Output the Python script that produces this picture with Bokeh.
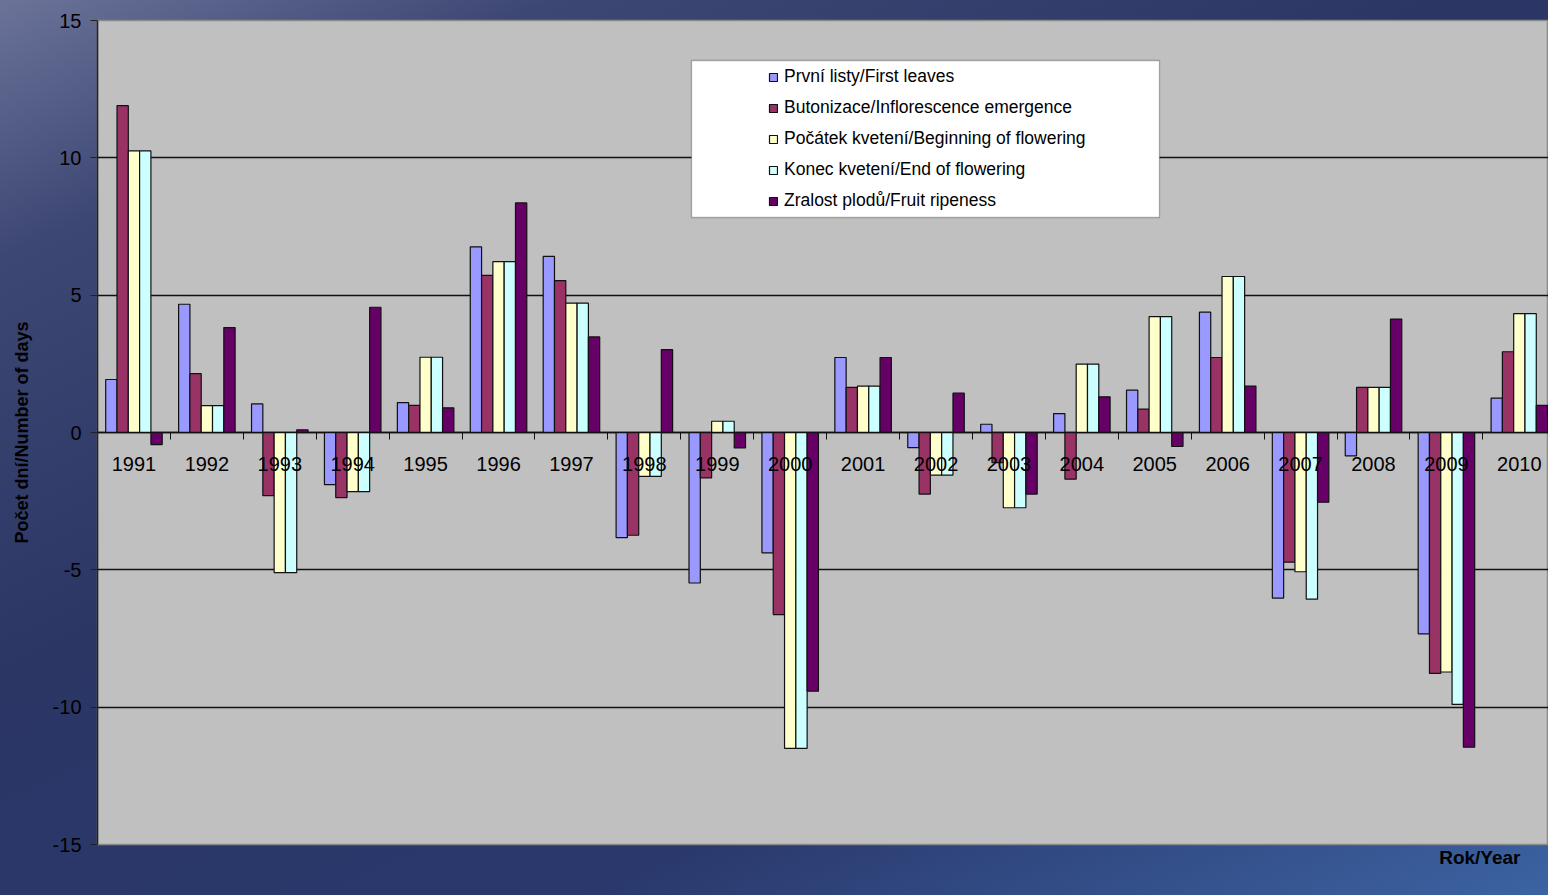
import numpy as np
from bokeh.plotting import figure
from bokeh.models import (ColumnDataSource, FixedTicker, LinearAxis, Legend, LegendItem,
                          BoxAnnotation, Title, Range1d)
from bokeh.transform import dodge
from bokeh.embed import file_html
from bokeh.resources import INLINE

years = ["1991", "1992", "1993", "1994", "1995", "1996", "1997", "1998", "1999", "2000",
         "2001", "2002", "2003", "2004", "2005", "2006", "2007", "2008", "2009", "2010"]

series_names = ["První listy/First leaves",
                "Butonizace/Inflorescence emergence",
                "Počátek kvetení/Beginning of flowering",
                "Konec kvetení/End of flowering",
                "Zralost plodů/Fruit ripeness"]

first_leaves = [1.93, 4.67, 1.04, -1.9, 1.09, 6.76, 6.41, -3.83, -5.48, -4.38,
                2.73, -0.55, 0.3, 0.69, 1.54, 4.38, -6.03, -0.85, -7.33, 1.25]
inflorescence = [11.9, 2.14, -2.3, -2.37, 0.99, 5.72, 5.53, -3.74, -1.65, -6.63,
                 1.64, -2.24, -1.1, -1.7, 0.85, 2.73, -4.72, 1.64, -8.77, 2.94]
begin_flowering = [10.25, 0.98, -5.1, -2.15, 2.74, 6.22, 4.71, -1.6, 0.41, -11.5,
                   1.69, -1.55, -2.74, 2.49, 4.22, 5.68, -5.07, 1.64, -8.72, 4.33]
end_flowering = [10.25, 0.98, -5.1, -2.15, 2.74, 6.22, 4.71, -1.6, 0.41, -11.5,
                 1.69, -1.55, -2.74, 2.49, 4.22, 5.68, -6.07, 1.64, -9.9, 4.33]
fruit_ripeness = [-0.44, 3.82, 0.1, 4.56, 0.9, 8.36, 3.48, 3.02, -0.56, -9.42,
                  2.73, 1.43, -2.24, 1.3, -0.51, 1.69, -2.54, 4.13, -11.46, 0.99]

colors = ["#9999FF", "#993366", "#FFFFCC", "#CCFFFF", "#660066"]
y_ticks = [-15, -10, -5, 0, 5, 10, 15]

src = ColumnDataSource(dict(
    xc=np.arange(len(years)) + 0.5,
    s0=first_leaves, s1=inflorescence, s2=begin_flowering, s3=end_flowering, s4=fruit_ripeness,
))

FONT = "Liberation Sans"

p = figure(width=1548, height=895, output_backend="svg", toolbar_location=None,
           x_range=Range1d(0, 19.9), y_range=Range1d(-15, 15),
           min_border_left=97, min_border_right=0, min_border_top=20, min_border_bottom=51,
           background_fill_color="#C0C0C0", border_fill_color=None,
           outline_line_color="#8a8a8a", outline_line_width=1.5, x_axis_type=None)
p.styles = {"background": "linear-gradient(155deg, #6b7399 0%, #3d4773 16%, #2b3665 42%, #2a386c 72%, #3c63a2 100%)"}

bar_w = 0.155
offsets = [-2 * bar_w, -bar_w, 0, bar_w, 2 * bar_w]
renderers = []
for i in range(5):
    r = p.vbar(x=dodge("xc", offsets[i], range=p.x_range), top=f"s{i}", bottom=0, width=bar_w,
               source=src, fill_color=colors[i], line_color="#111111", line_width=1.2)
    renderers.append(r)

# y axis / grid
p.yaxis.ticker = FixedTicker(ticks=y_ticks)
p.yaxis.major_label_overrides = {t: str(t) for t in y_ticks}
p.yaxis.axis_line_color = "#222222"
p.yaxis.axis_line_width = 1.5
p.yaxis.major_tick_out = 7
p.yaxis.major_tick_in = 0
p.yaxis.major_tick_line_color = "#222222"
p.yaxis.minor_tick_line_color = None
p.yaxis.major_label_text_font = FONT
p.yaxis.major_label_text_font_size = "20px"
p.yaxis.major_label_text_color = "#000000"
p.yaxis.major_label_standoff = 9
p.yaxis.axis_label = "Počet dní/Number of days"
p.yaxis.axis_label_text_font = FONT
p.yaxis.axis_label_text_font_style = "bold"
p.yaxis.axis_label_text_font_size = "18px"
p.yaxis.axis_label_text_color = "#000000"
p.yaxis.axis_label_standoff = 18
p.ygrid.ticker = FixedTicker(ticks=y_ticks)
p.ygrid.grid_line_color = "#111111"
p.ygrid.grid_line_width = 1.3

# category axis along zero: tick marks at boundaries
boundaries = list(range(0, len(years) + 1))
ax_ticks = LinearAxis(ticker=FixedTicker(ticks=boundaries), fixed_location=0,
                      major_label_text_color=None, axis_line_color="#111111", axis_line_width=1.5,
                      major_tick_out=7, major_tick_in=0, major_tick_line_color="#111111",
                      minor_tick_line_color=None)
p.add_layout(ax_ticks, "below")
centers = [i + 0.5 for i in range(len(years))]
ax_labels = LinearAxis(ticker=FixedTicker(ticks=centers), fixed_location=0,
                       major_label_overrides={c: y for c, y in zip(centers, years)},
                       axis_line_color=None, major_tick_line_color=None, minor_tick_line_color=None,
                       major_label_text_font=FONT, major_label_text_font_size="20px",
                       major_label_text_color="#000000", major_label_standoff=18)
p.add_layout(ax_labels, "below")

# legend box and legend
box = BoxAnnotation(left=594, right=1062, top=784, bottom=627,
                    left_units="screen", right_units="screen", top_units="screen", bottom_units="screen",
                    fill_color="white", fill_alpha=1.0, line_color="#111111", line_width=1.3)
p.add_layout(box)
legend = Legend(items=[LegendItem(label=n, renderers=[r]) for n, r in zip(series_names, renderers)],
                location=(671, 633), padding=0, margin=0, spacing=10,
                glyph_width=10, glyph_height=10, label_height=20, label_standoff=6,
                label_text_font=FONT, label_text_font_size="17.5px", label_text_color="#000000",
                background_fill_alpha=0, border_line_color=None)
p.add_layout(legend)

# axis title at the bottom edge, with an invisible spacer between it and the frame
xlabel = Title(text="Rok/Year", align="right", vertical_align="bottom", offset=28, standoff=0,
               text_font=FONT, text_font_style="bold", text_font_size="19px", text_color="#000000")
p.add_layout(xlabel, "below")
spacer = Title(text=".", standoff=14, text_font=FONT, text_font_size="10px",
               text_color="#000000", text_alpha=0.0)
p.add_layout(spacer, "below")

open("out.html", "w").write(file_html(p, INLINE))
